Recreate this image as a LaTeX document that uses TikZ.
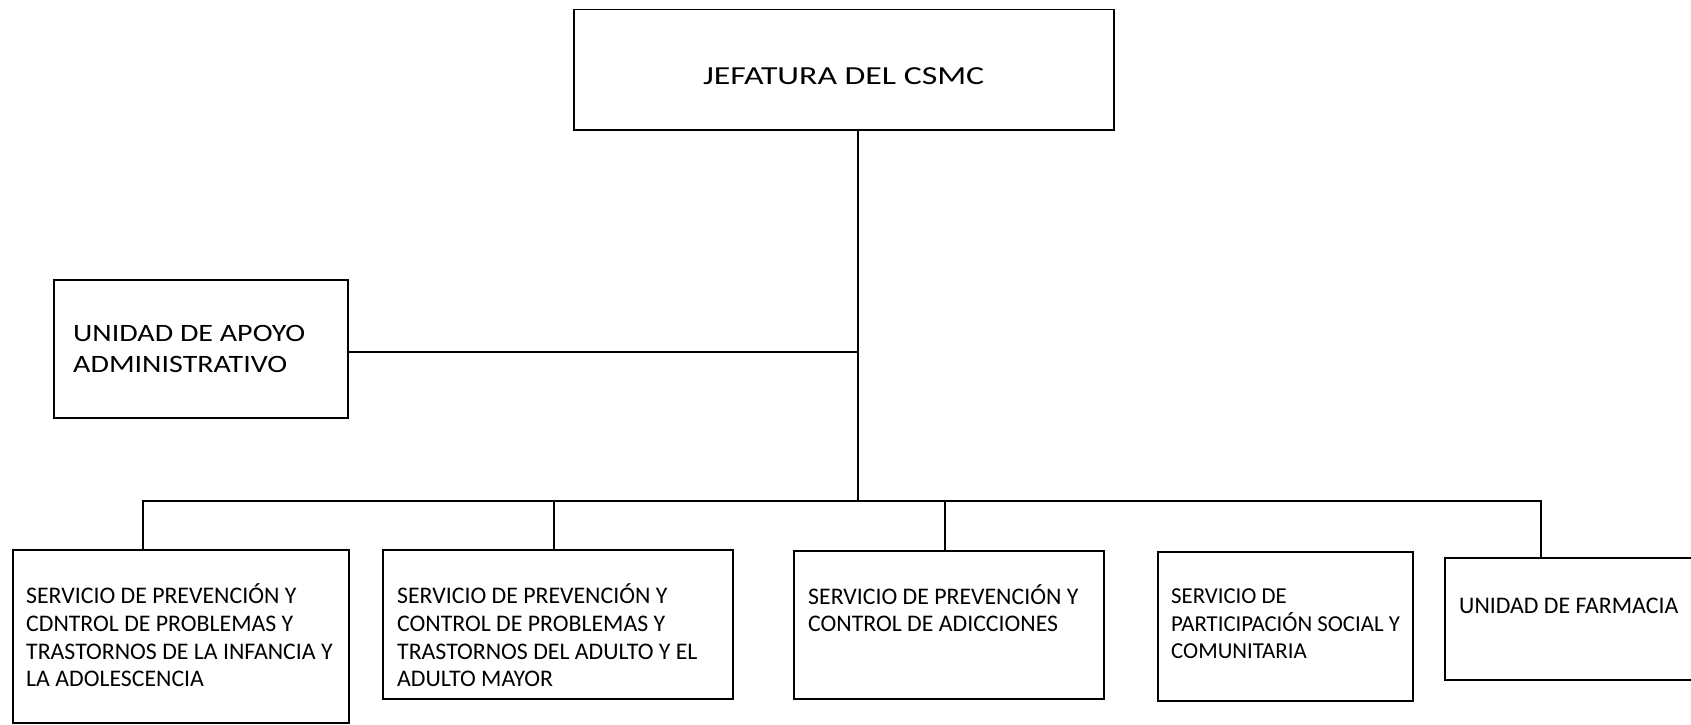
\documentclass[tikz,border=0pt]{standalone}
\usepackage{fontspec}
\setmainfont{Carlito}
\newfontfamily\titulofont[FakeStretch=1.3]{Carlito}
\newfontfamily\apoyofont[FakeStretch=1.2]{Carlito}
\usetikzlibrary{positioning}

\tikzset{
  caja/.style={draw, line width=1.5pt, inner sep=0pt, anchor=north west},
  linea/.style={line width=1.5pt},
  texto/.style={align=left, inner sep=0pt, anchor=north west,
    font=\fontsize{23.8}{27.7}\selectfont, execute at begin node=\strut},
}

\begin{document}
\begin{tikzpicture}[x=1pt,y=-1pt]
\useasboundingbox (0,0) rectangle (1691,725);
\clip (0,0) rectangle (1691,725);

% cajas
\node[caja, minimum width=540, minimum height=120] (jefatura) at (573,9) {};
\node[caja, minimum width=294, minimum height=138] (apoyo) at (53,279) {};
\node[caja, minimum width=336, minimum height=173] (infancia) at (12,549) {};
\node[caja, minimum width=350, minimum height=149] (adulto) at (382,549) {};
\node[caja, minimum width=310, minimum height=148] (adicciones) at (793,550) {};
\node[caja, minimum width=255, minimum height=149] (participacion) at (1157,551) {};
\node[caja, minimum width=260, minimum height=122] (farmacia) at (1444,557) {};

% textos
\node[font=\titulofont\fontsize{26}{30}\selectfont] (jefaturatxt)
  at ([yshift=-6pt]jefatura.center) {JEFATURA DEL CSMC};
\node[texto, font=\apoyofont\fontsize{25}{30.2}\selectfont,
  below right=46.5pt and 20pt of apoyo.north west] (apoyotxt)
  {UNIDAD DE APOYO\\ADMINISTRATIVO};
\node[texto, below right=34.6pt and 14pt of infancia.north west] (infanciatxt)
  {SERVICIO DE PREVENCIÓN Y\\CDNTROL DE PROBLEMAS Y\\TRASTORNOS DE LA INFANCIA Y\\LA ADOLESCENCIA};
\node[texto, below right=34.6pt and 15pt of adulto.north west] (adultotxt)
  {SERVICIO DE PREVENCIÓN Y\\CONTROL DE PROBLEMAS Y\\TRASTORNOS DEL ADULTO Y EL\\ADULTO MAYOR};
\node[texto, below right=34pt and 15pt of adicciones.north west] (adiccionestxt)
  {SERVICIO DE PREVENCIÓN Y\\CONTROL DE ADICCIONES};
\node[texto, font=\fontsize{22.8}{27.7}\selectfont,
  below right=37.5pt and 14pt of participacion.north west] (participaciontxt)
  {SERVICIO DE\\PARTICIPACIÓN SOCIAL Y\\COMUNITARIA};
\node[texto, below right=36.6pt and 15pt of farmacia.north west] (farmaciatxt)
  {UNIDAD DE FARMACIA};

% conectores
\coordinate (tronco) at (858,501);
\draw[linea] (jefatura.south -| tronco) -- (tronco);
\draw[linea] ([yshift=-3pt]apoyo.east) -- ([yshift=-3pt]apoyo.east -| tronco);
\draw[linea] (tronco) -| ([xshift=-38pt]infancia.north);
\draw[linea] (tronco) -| ([xshift=-4pt]adulto.north);
\draw[linea] (tronco) -| ([xshift=-4pt]adicciones.north);
\draw[linea] (tronco) -| ([xshift=97pt]farmacia.north west);
\end{tikzpicture}
\end{document}
